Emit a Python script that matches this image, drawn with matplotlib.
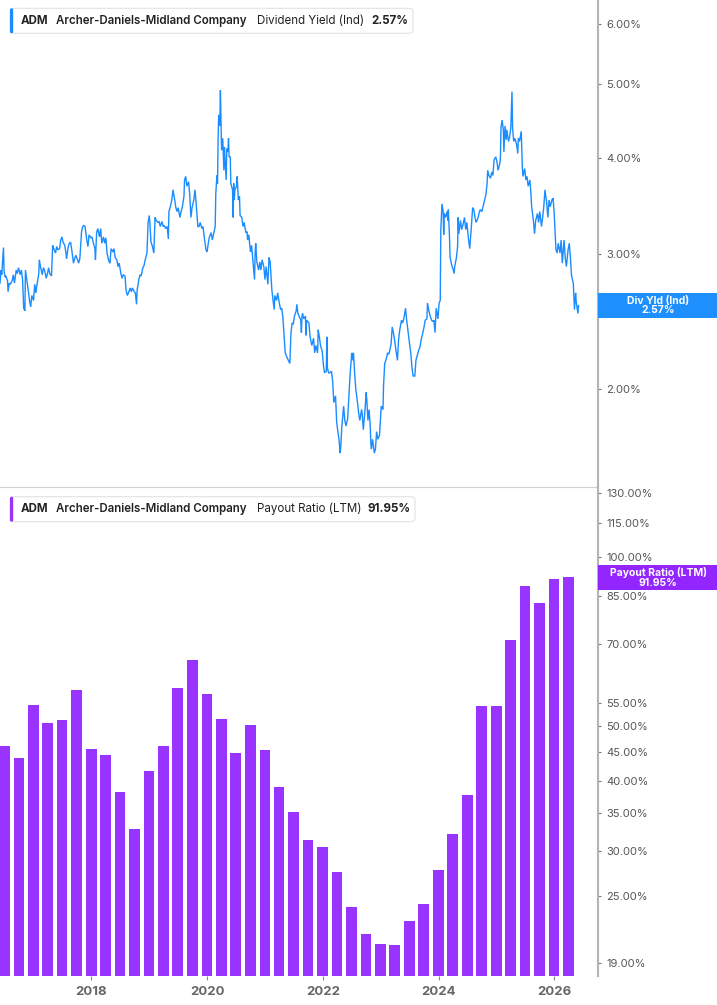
import numpy as np
import pandas as pd
import matplotlib
matplotlib.use('Agg')
import matplotlib.pyplot as plt
from matplotlib.patches import FancyBboxPatch, Rectangle
from matplotlib.transforms import IdentityTransform
from matplotlib.ticker import FixedLocator, FuncFormatter, NullLocator

plt.rcParams['font.family'] = ['Inter', 'DejaVu Sans']

BLUE = '#1a8cff'
PURPLE = '#9933ff'
GREY_TXT = '#555555'

# dividend yield (Ind), %, x in decimal years
div_years = [
  2016.42, 2016.44, 2016.45, 2016.48, 2016.49, 2016.51, 2016.52, 2016.55, 2016.56, 2016.58,
  2016.60, 2016.63, 2016.65, 2016.67, 2016.70, 2016.72, 2016.74, 2016.77, 2016.79, 2016.81,
  2016.83, 2016.85, 2016.86, 2016.88, 2016.90, 2016.93, 2016.95, 2016.97, 2017.00, 2017.02,
  2017.04, 2017.06, 2017.09, 2017.10, 2017.12, 2017.15, 2017.17, 2017.19, 2017.22, 2017.24,
  2017.26, 2017.28, 2017.31, 2017.33, 2017.35, 2017.38, 2017.40, 2017.42, 2017.45, 2017.47,
  2017.49, 2017.51, 2017.54, 2017.56, 2017.57, 2017.60, 2017.62, 2017.64, 2017.66, 2017.69,
  2017.71, 2017.73, 2017.76, 2017.78, 2017.80, 2017.83, 2017.85, 2017.87, 2017.89, 2017.92,
  2017.94, 2017.96, 2017.99, 2018.01, 2018.03, 2018.06, 2018.07, 2018.09, 2018.11, 2018.14,
  2018.16, 2018.18, 2018.21, 2018.23, 2018.25, 2018.27, 2018.30, 2018.32, 2018.34, 2018.37,
  2018.39, 2018.41, 2018.44, 2018.46, 2018.48, 2018.51, 2018.53, 2018.55, 2018.58, 2018.60,
  2018.62, 2018.64, 2018.67, 2018.69, 2018.71, 2018.74, 2018.76, 2018.78, 2018.79, 2018.82,
  2018.84, 2018.86, 2018.89, 2018.91, 2018.93, 2018.96, 2018.98, 2019.00, 2019.01, 2019.03,
  2019.05, 2019.08, 2019.10, 2019.12, 2019.15, 2019.17, 2019.19, 2019.22, 2019.24, 2019.26,
  2019.28, 2019.31, 2019.33, 2019.34, 2019.36, 2019.39, 2019.41, 2019.43, 2019.46, 2019.48,
  2019.50, 2019.53, 2019.55, 2019.57, 2019.60, 2019.61, 2019.63, 2019.65, 2019.68, 2019.70,
  2019.72, 2019.74, 2019.77, 2019.79, 2019.81, 2019.84, 2019.86, 2019.88, 2019.91, 2019.93,
  2019.95, 2019.98, 2020.00, 2020.02, 2020.04, 2020.07, 2020.09, 2020.11, 2020.14, 2020.15,
  2020.17, 2020.18, 2020.19, 2020.20, 2020.22, 2020.23, 2020.24, 2020.25, 2020.27, 2020.29,
  2020.30, 2020.31, 2020.33, 2020.34, 2020.36, 2020.37, 2020.38, 2020.40, 2020.41, 2020.44,
  2020.45, 2020.46, 2020.47, 2020.48, 2020.51, 2020.52, 2020.54, 2020.56, 2020.57, 2020.60,
  2020.62, 2020.64, 2020.67, 2020.69, 2020.70, 2020.72, 2020.75, 2020.77, 2020.79, 2020.82,
  2020.83, 2020.84, 2020.86, 2020.89, 2020.91, 2020.93, 2020.95, 2020.98, 2021.00, 2021.02,
  2021.05, 2021.07, 2021.09, 2021.12, 2021.14, 2021.16, 2021.17, 2021.20, 2021.22, 2021.24,
  2021.27, 2021.29, 2021.31, 2021.35, 2021.38, 2021.43, 2021.45, 2021.47, 2021.49, 2021.51,
  2021.54, 2021.55, 2021.57, 2021.59, 2021.62, 2021.63, 2021.64, 2021.65, 2021.67, 2021.70,
  2021.71, 2021.72, 2021.76, 2021.78, 2021.79, 2021.81, 2021.84, 2021.86, 2021.88, 2021.91,
  2021.92, 2021.94, 2021.96, 2021.99, 2022.01, 2022.03, 2022.06, 2022.07, 2022.08, 2022.10,
  2022.12, 2022.15, 2022.17, 2022.19, 2022.22, 2022.24, 2022.26, 2022.28, 2022.30, 2022.31,
  2022.33, 2022.36, 2022.38, 2022.40, 2022.43, 2022.45, 2022.47, 2022.50, 2022.52, 2022.53,
  2022.55, 2022.57, 2022.60, 2022.62, 2022.64, 2022.67, 2022.68, 2022.70, 2022.73, 2022.75,
  2022.76, 2022.78, 2022.80, 2022.82, 2022.83, 2022.84, 2022.86, 2022.89, 2022.91, 2022.93,
  2022.95, 2022.98, 2023.00, 2023.01, 2023.04, 2023.05, 2023.07, 2023.09, 2023.12, 2023.14,
  2023.16, 2023.18, 2023.20, 2023.22, 2023.24, 2023.26, 2023.29, 2023.31, 2023.33, 2023.36,
  2023.38, 2023.40, 2023.43, 2023.45, 2023.47, 2023.50, 2023.52, 2023.54, 2023.56, 2023.59,
  2023.61, 2023.63, 2023.66, 2023.68, 2023.70, 2023.73, 2023.75, 2023.77, 2023.80, 2023.81,
  2023.83, 2023.85, 2023.88, 2023.90, 2023.92, 2023.94, 2023.96, 2023.99, 2024.01, 2024.03,
  2024.04, 2024.06, 2024.08, 2024.09, 2024.10, 2024.12, 2024.15, 2024.16, 2024.17, 2024.19,
  2024.20, 2024.23, 2024.25, 2024.27, 2024.28, 2024.31, 2024.33, 2024.34, 2024.35, 2024.38,
  2024.40, 2024.42, 2024.45, 2024.47, 2024.49, 2024.52, 2024.54, 2024.55, 2024.56, 2024.59,
  2024.61, 2024.63, 2024.65, 2024.68, 2024.70, 2024.72, 2024.75, 2024.77, 2024.79, 2024.82,
  2024.84, 2024.85, 2024.87, 2024.90, 2024.92, 2024.94, 2024.96, 2024.99, 2025.01, 2025.03,
  2025.06, 2025.07, 2025.08, 2025.10, 2025.12, 2025.13, 2025.15, 2025.17, 2025.18, 2025.21,
  2025.23, 2025.25, 2025.27, 2025.28, 2025.30, 2025.32, 2025.35, 2025.37, 2025.38, 2025.40,
  2025.43, 2025.45, 2025.46, 2025.49, 2025.51, 2025.53, 2025.55, 2025.58, 2025.60, 2025.61,
  2025.64, 2025.66, 2025.68, 2025.71, 2025.73, 2025.75, 2025.78, 2025.80, 2025.82, 2025.84,
  2025.87, 2025.89, 2025.91, 2025.93, 2025.96, 2025.98, 2026.00, 2026.03, 2026.05, 2026.07,
  2026.10, 2026.12, 2026.14, 2026.17, 2026.19, 2026.21, 2026.24, 2026.26, 2026.28, 2026.30,
  2026.33, 2026.35, 2026.36, 2026.37, 2026.38, 2026.41, 2026.42,
]
div_yield = [
  2.75, 2.86, 2.82, 3.06, 2.85, 2.80, 2.81, 2.77, 2.68, 2.75,
  2.74, 2.77, 2.82, 2.75, 2.86, 2.83, 2.88, 2.82, 2.86, 2.78,
  2.55, 2.53, 2.86, 2.79, 2.72, 2.61, 2.56, 2.65, 2.61, 2.74,
  2.67, 2.74, 2.83, 2.95, 2.89, 2.82, 2.88, 2.86, 2.79, 2.83,
  2.88, 2.83, 2.81, 3.08, 3.05, 3.01, 3.07, 3.04, 3.05, 3.13,
  3.16, 3.11, 3.08, 3.01, 2.96, 3.07, 3.10, 3.11, 3.04, 2.92,
  2.96, 2.99, 2.95, 2.92, 2.96, 3.21, 3.26, 3.27, 3.26, 3.13,
  3.07, 3.18, 3.15, 3.16, 3.11, 3.05, 2.95, 3.20, 3.24, 3.16,
  3.24, 3.10, 3.16, 3.10, 3.15, 3.01, 2.94, 2.92, 3.05, 3.02,
  3.05, 2.97, 2.95, 2.89, 2.92, 2.83, 2.79, 2.82, 2.81, 2.69,
  2.65, 2.67, 2.71, 2.68, 2.71, 2.68, 2.67, 2.58, 2.69, 2.78,
  2.82, 2.81, 2.88, 2.90, 2.95, 3.01, 3.30, 3.37, 3.30, 3.11,
  3.08, 3.01, 3.35, 3.32, 3.30, 3.31, 3.26, 3.31, 3.26, 3.27,
  3.24, 3.26, 3.14, 3.41, 3.45, 3.53, 3.64, 3.57, 3.45, 3.41,
  3.45, 3.35, 3.41, 3.45, 3.57, 3.75, 3.79, 3.68, 3.73, 3.59,
  3.35, 3.45, 3.53, 3.64, 3.50, 3.26, 3.26, 3.30, 3.24, 3.26,
  3.16, 3.04, 3.02, 3.10, 3.16, 3.20, 3.13, 3.18, 3.26, 3.60,
  3.80, 3.71, 4.23, 4.56, 4.41, 4.91, 4.45, 4.10, 4.25, 3.86,
  4.14, 3.98, 3.75, 4.12, 4.08, 4.25, 4.02, 4.02, 3.71, 3.64,
  3.35, 3.71, 3.53, 3.64, 3.68, 3.79, 3.53, 3.57, 3.37, 3.35,
  3.26, 3.30, 3.20, 3.21, 3.13, 3.18, 3.02, 3.08, 2.95, 2.78,
  3.01, 3.10, 2.93, 2.86, 2.93, 2.86, 2.95, 2.89, 2.78, 2.89,
  2.74, 2.97, 2.93, 2.69, 2.61, 2.54, 2.65, 2.61, 2.67, 2.61,
  2.54, 2.55, 2.48, 2.23, 2.20, 2.16, 2.37, 2.44, 2.43, 2.49,
  2.53, 2.58, 2.51, 2.49, 2.46, 2.37, 2.49, 2.51, 2.47, 2.49,
  2.35, 2.46, 2.44, 2.34, 2.32, 2.28, 2.33, 2.23, 2.28, 2.23,
  2.39, 2.34, 2.28, 2.24, 2.15, 2.10, 2.11, 2.34, 2.13, 2.10,
  2.10, 2.11, 2.05, 1.92, 1.96, 1.81, 1.76, 1.72, 1.65, 1.68,
  1.79, 1.90, 1.82, 1.79, 1.83, 1.95, 2.08, 2.23, 2.18, 2.23,
  2.10, 2.00, 1.92, 1.86, 1.82, 1.88, 1.86, 1.77, 1.88, 1.98,
  1.94, 1.82, 1.88, 1.79, 1.70, 1.67, 1.72, 1.65, 1.67, 1.76,
  1.72, 1.74, 1.84, 1.90, 1.88, 2.02, 2.16, 2.18, 2.23, 2.22,
  2.25, 2.29, 2.41, 2.37, 2.32, 2.26, 2.18, 2.32, 2.39, 2.46,
  2.44, 2.47, 2.55, 2.46, 2.39, 2.29, 2.23, 2.14, 2.08, 2.08,
  2.18, 2.21, 2.25, 2.27, 2.32, 2.37, 2.41, 2.46, 2.47, 2.59,
  2.54, 2.50, 2.46, 2.45, 2.46, 2.37, 2.55, 2.47, 2.59, 2.61,
  3.23, 3.49, 3.41, 3.18, 3.39, 3.35, 3.41, 3.32, 3.43, 3.16,
  2.97, 2.90, 2.87, 2.83, 2.89, 2.97, 3.07, 3.35, 3.19, 3.32,
  3.23, 3.27, 3.35, 3.23, 3.30, 3.13, 3.05, 3.13, 3.19, 3.45,
  3.43, 3.35, 3.30, 3.34, 3.39, 3.43, 3.41, 3.46, 3.51, 3.59,
  3.71, 3.86, 3.80, 3.77, 3.84, 3.80, 3.98, 4.02, 3.96, 3.86,
  3.94, 4.00, 4.39, 4.49, 4.36, 4.08, 4.41, 4.23, 4.36, 4.21,
  4.27, 4.39, 4.89, 4.39, 4.21, 4.25, 4.17, 4.06, 4.25, 4.21,
  4.34, 3.88, 3.79, 3.88, 3.75, 3.79, 3.68, 3.75, 3.57, 3.46,
  3.32, 3.19, 3.32, 3.39, 3.30, 3.41, 3.26, 3.35, 3.46, 3.64,
  3.50, 3.35, 3.53, 3.46, 3.53, 3.55, 3.39, 3.04, 3.01, 3.10,
  3.01, 3.13, 2.92, 3.13, 2.97, 2.89, 3.04, 3.10, 2.97, 2.81,
  2.75, 2.54, 2.61, 2.67, 2.60, 2.51, 2.57,
]

# payout ratio (LTM), %, one bar per quarter
payout_quarters = pd.date_range('2016-06-30', '2026-03-31', freq='QE')
payout_ratio = [
  46.2, 43.9, 54.5, 50.7, 51.3, 58.0, 45.5, 44.4, 38.2, 32.8,
  41.6, 46.1, 58.5, 65.6, 57.0, 51.4, 44.8, 50.3, 45.4, 39.0,
  35.2, 31.4, 30.5, 27.5, 23.9, 21.4, 20.5, 20.4, 22.5, 24.2,
  27.8, 32.2, 37.7, 54.4, 54.4, 71.1, 88.7, 82.6, 91.3, 91.95,
]

yield_ticks = [2, 3, 4, 5, 6]
payout_ticks = [19, 25, 30, 35, 40, 45, 50, 55, 70, 85, 100, 115, 130]
year_ticks = [2018, 2020, 2022, 2024, 2026]

bar_x = payout_quarters.year + (payout_quarters.dayofyear - 1) / 365.25

W, H = 717, 1005
fig = plt.figure(figsize=(W / 100, H / 100), dpi=100)


def fx(px):
  return px / W


def fy(py):
  return 1 - py / H


X0, X1 = 2016.42, 2026.757
pct = FuncFormatter(lambda v, p: '%.2f%%' % v)

# ---- top panel: dividend yield
ax1 = fig.add_axes([0, fy(487), fx(598), fy(0) - fy(487)])
ax1.plot(div_years, div_yield, color=BLUE, lw=1.0, solid_joinstyle='miter')
ax1.set_yscale('log')
ax1.set_ylim(1.49, 6.44)
ax1.set_xlim(X0, X1)
ax1.yaxis.tick_right()
ax1.yaxis.set_major_locator(FixedLocator(yield_ticks))
ax1.yaxis.set_minor_locator(NullLocator())
ax1.yaxis.set_major_formatter(pct)
ax1.set_xticks([])

# ---- bottom panel: payout ratio
ax2 = fig.add_axes([0, fy(976), fx(598), fy(487) - fy(976)])
ax2.set_yscale('log')
y_lo, y_hi = 18.0, 133.0
ax2.bar(bar_x, np.array(payout_ratio) - y_lo, bottom=y_lo, width=0.185,
        color=PURPLE, edgecolor='none')
ax2.set_ylim(y_lo, y_hi)
ax2.set_xlim(X0, X1)
ax2.yaxis.tick_right()
ax2.yaxis.set_major_locator(FixedLocator(payout_ticks))
ax2.yaxis.set_minor_locator(NullLocator())
ax2.yaxis.set_major_formatter(pct)
ax2.set_xticks(year_ticks)
ax2.set_xticklabels([str(y) for y in year_ticks], fontweight='bold',
                    color='#666666', fontsize=9.5)
ax2.tick_params(axis='x', length=3, color='#888888', pad=4)

for ax in (ax1, ax2):
  ax.set_facecolor('none')
  ax.spines['top'].set_visible(False)
  ax.spines['left'].set_visible(False)
  ax.spines['right'].set_color('#b3b3b3')
  ax.spines['right'].set_linewidth(1.5)
  ax.tick_params(axis='y', which='major', length=2, color='#777777',
                 labelcolor=GREY_TXT, labelsize=8, pad=4)
ax1.spines['bottom'].set_color('#d0d0d0')
ax1.spines['bottom'].set_linewidth(0.8)
ax2.spines['bottom'].set_visible(False)

ID = IdentityTransform()


def legend_box(top, bottom, right, color, metric, value, value_x):
  box = FancyBboxPatch((10, H - bottom), right - 10, bottom - top,
                       boxstyle='round,pad=0,rounding_size=4',
                       facecolor='white', edgecolor='#e2e2e2', lw=0.8,
                       transform=ID, zorder=5)
  fig.add_artist(box)
  acc = FancyBboxPatch((10, H - bottom), 3.2, bottom - top,
                       boxstyle='round,pad=0,rounding_size=1.5',
                       facecolor=color, edgecolor='none', transform=ID, zorder=6)
  fig.add_artist(acc)
  yc = fy((top + bottom) / 2)
  kw = dict(va='center', ha='left', fontsize=8.3, color='#222222', zorder=7)
  fig.text(fx(20.7), yc, 'ADM', fontweight='bold', **kw)
  fig.text(fx(56), yc, 'Archer-Daniels-Midland Company', fontweight='semibold', **kw)
  fig.text(fx(256.7), yc, metric, **kw)
  fig.text(fx(value_x), yc, value, fontweight='bold', **kw)


legend_box(8.3, 33.3, 413, BLUE, 'Dividend Yield (Ind)', '%.2f%%' % div_yield[-1], 371.7)
legend_box(496.7, 521.7, 415, PURPLE, 'Payout Ratio (LTM)', '%.2f%%' % payout_ratio[-1], 367.7)


def value_tag(top, bottom, color, label, value):
  fig.add_artist(Rectangle((fx(598), fy(bottom)), fx(717) - fx(598),
                           fy(top) - fy(bottom), facecolor=color,
                           edgecolor='none', transform=fig.transFigure, zorder=6))
  fig.text(fx(658), fy((top + bottom) / 2), '%s\n%s' % (label, value),
           ha='center', va='center', color='white', fontweight='bold',
           fontsize=7.5, linespacing=0.95, zorder=7)


value_tag(292.7, 318.3, '#1e8fff', 'Div Yld (Ind)', '%.2f%%' % div_yield[-1])
value_tag(565, 590, '#9326ff', 'Payout Ratio (LTM)', '%.2f%%' % payout_ratio[-1])

fig.savefig('out.png', dpi=100)
